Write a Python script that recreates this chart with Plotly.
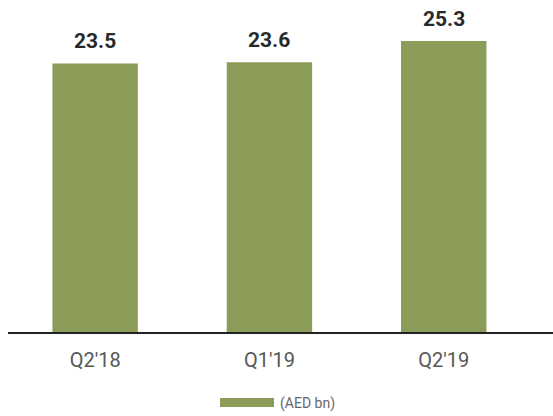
import plotly.graph_objects as go

# Quarterly totals, AED bn
quarters = ["Q2'18", "Q1'19", "Q2'19"]
values = [23.5, 23.6, 25.3]
unit_label = "(AED bn)"

bar_color = "#8a9c57"

fig = go.Figure()
fig.add_trace(go.Bar(
    x=quarters,
    y=values,
    marker=dict(color=bar_color, line=dict(width=0)),
    width=0.49,
    showlegend=False,
    hoverinfo="skip",
))

# Value labels above each bar
for q, v in zip(quarters, values):
    fig.add_annotation(
        x=q, y=v, text=f"<b>{v:.1f}</b>",
        xref="x", yref="y",
        yanchor="bottom", showarrow=False, yshift=8,
        font=dict(family="Roboto", size=21, color="#262a2a"),
    )

# Legend: wide swatch plus unit text
fig.add_shape(
    type="rect", xref="paper", yref="paper",
    x0=(220 - 8) / 545, x1=(274 - 8) / 545,
    y0=-(398 - 332) / 322, y1=-(407 - 332) / 322,
    fillcolor=bar_color, line=dict(width=0),
)
fig.add_annotation(
    xref="paper", yref="paper",
    x=(278 - 8) / 545, y=-(403 - 332) / 322,
    xanchor="left", yanchor="middle", showarrow=False,
    text=unit_label,
    font=dict(family="Roboto", size=14, color="#666666"),
)

fig.update_layout(
    width=553, height=416,
    margin=dict(l=8, r=0, t=10, b=84),
    paper_bgcolor="white", plot_bgcolor="white",
    xaxis=dict(
        range=[-0.5, 2.627],
        showline=True, linecolor="#222222", linewidth=2,
        showgrid=False, zeroline=False, ticks="",
        tickfont=dict(family="Roboto", size=20, color="#555858"),
        ticklabelstandoff=9,
    ),
    yaxis=dict(
        range=[2, 2 + 322 / 12.49],
        visible=False, showgrid=False, zeroline=False,
    ),
)

fig.write_html("out.html")
